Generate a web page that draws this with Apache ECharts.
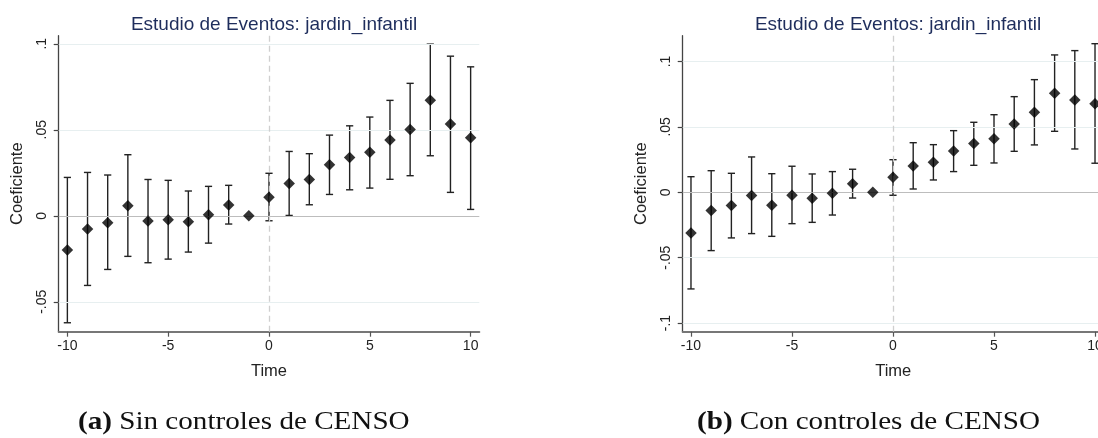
<!DOCTYPE html>
<html>
<head>
<meta charset="utf-8">
<script src="https://cdn.jsdelivr.net/npm/echarts@6/dist/echarts.min.js"></script>
<style>
  html, body { margin: 0; padding: 0; background: #ffffff; }
  #chart { width: 1098px; height: 438px; }
</style>
</head>
<body>
<div id="chart"></div>
<script>
// Event time (years relative to treatment)
const times = [-10, -9, -8, -7, -6, -5, -4, -3, -2, -1, 0, 1, 2, 3, 4, 5, 6, 7, 8, 9, 10];

// Panel (a): without census controls
const coefA = [-0.0199, -0.0077, -0.0041, 0.0058, -0.0031, -0.0023, -0.0035, 0.0006, 0.0062, 0, 0.0108, 0.0188, 0.0211, 0.0297, 0.0339, 0.0369, 0.0440, 0.0502, 0.0671, 0.0533, 0.0453];
const lowA  = [-0.0622, -0.0405, -0.0312, -0.0236, -0.0273, -0.0252, -0.0211, -0.0159, -0.0048, 0, -0.0029, 0.0002, 0.0064, 0.0124, 0.0151, 0.0161, 0.0212, 0.0233, 0.0349, 0.0136, 0.0037];
const highA = [0.0223, 0.0252, 0.0237, 0.0355, 0.0211, 0.0206, 0.0144, 0.0171, 0.0177, 0, 0.0247, 0.0374, 0.0361, 0.0469, 0.0523, 0.0574, 0.0671, 0.0770, 0.0998, 0.0928, 0.0866];

// Panel (b): with census controls
const coefB = [-0.0311, -0.0140, -0.0102, -0.0025, -0.0100, -0.0023, -0.0046, -0.0008, 0.0066, 0, 0.0115, 0.0201, 0.0229, 0.0316, 0.0372, 0.0410, 0.0522, 0.0611, 0.0757, 0.0706, 0.0677];
const lowB  = [-0.0739, -0.0446, -0.0349, -0.0316, -0.0337, -0.0240, -0.0230, -0.0174, -0.0044, 0, -0.0023, 0.0025, 0.0094, 0.0158, 0.0206, 0.0224, 0.0313, 0.0362, 0.0466, 0.0331, 0.0222];
const highB = [0.0119, 0.0165, 0.0145, 0.0270, 0.0142, 0.0199, 0.0140, 0.0158, 0.0176, 0, 0.0249, 0.0379, 0.0364, 0.0471, 0.0535, 0.0593, 0.0731, 0.0861, 0.1050, 0.1083, 0.1136];

// Axis ticks and their labels
const xTicks = [-10, -5, 0, 5, 10];
const xTickLabels = ['-10', '-5', '0', '5', '10'];
const yTicksA = [-0.05, 0, 0.05, 0.1];
const yTickLabelsA = ['-.05', '0', '.05', '.1'];
const yTicksB = [-0.1, -0.05, 0, 0.05, 0.1];
const yTickLabelsB = ['-.1', '-.05', '0', '.05', '.1'];

const titleText = 'Estudio de Eventos: jardin_infantil';
const xName = 'Time';
const yName = 'Coeficiente';
const captionA = ['(a)', 'Sin controles de CENSO'];
const captionB = ['(b)', 'Con controles de CENSO'];

const SANS = '"Liberation Sans", Arial, sans-serif';
const SERIF = '"Liberation Serif", "DejaVu Serif", serif';

function labelFor(ticks, labels) {
  return function (v) {
    for (let i = 0; i < ticks.length; i++) {
      if (Math.abs(ticks[i] - v) < 1e-9) return labels[i];
    }
    return '';
  };
}

function xAxisFor(gridIndex, min, max) {
  return {
    type: 'value', gridIndex: gridIndex, min: min, max: max,
    name: xName, nameLocation: 'middle', nameGap: 31,
    nameTextStyle: { fontFamily: SANS, fontSize: 16.5, color: '#222' },
    axisLine: { show: true, onZero: false, lineStyle: { color: '#777', width: 2 } },
    axisTick: { show: true, length: 5, customValues: xTicks, lineStyle: { color: '#555', width: 1.2 } },
    axisLabel: { customValues: xTicks, formatter: labelFor(xTicks, xTickLabels), fontFamily: SANS, fontSize: 14, color: '#222', margin: 7, hideOverlap: false },
    splitLine: { show: false }
  };
}

function yAxisFor(gridIndex, min, max, ticks, labels) {
  return {
    type: 'value', gridIndex: gridIndex, min: min, max: max,
    name: yName, nameLocation: 'middle', nameGap: 33,
    nameTextStyle: { fontFamily: SANS, fontSize: 16.5, color: '#222' },
    axisLine: { show: true, onZero: false, lineStyle: { color: '#444', width: 1.3 } },
    axisTick: { show: true, length: 5, customValues: ticks, lineStyle: { color: '#444', width: 1.2 } },
    axisLabel: { customValues: ticks, formatter: labelFor(ticks, labels), rotate: 90, fontFamily: SANS, fontSize: 14, color: '#222', margin: 10 },
    splitLine: { show: false }
  };
}

function errorBars(idx, low, high) {
  const data = times.map((t, i) => [t, low[i], high[i]]);
  return {
    type: 'custom', xAxisIndex: idx, yAxisIndex: idx, z: 3, silent: true,
    data: data,
    renderItem: function (params, api) {
      const x = api.value(0), lo = api.value(1), hi = api.value(2);
      if (lo === hi) return null;
      const pLo = api.coord([x, lo]);
      const pHi = api.coord([x, hi]);
      const half = 3.6;
      const style = { stroke: '#222', lineWidth: 1.4 };
      return {
        type: 'group',
        children: [
          { type: 'line', shape: { x1: pLo[0], y1: pLo[1], x2: pHi[0], y2: pHi[1] }, style: style },
          { type: 'line', shape: { x1: pLo[0] - half, y1: pLo[1], x2: pLo[0] + half, y2: pLo[1] }, style: style },
          { type: 'line', shape: { x1: pHi[0] - half, y1: pHi[1], x2: pHi[0] + half, y2: pHi[1] }, style: style }
        ]
      };
    }
  };
}

function referenceLines(idx, ticks) {
  const h = ticks.map(v => ({
    yAxis: v,
    lineStyle: v === 0 ? { color: '#bdbdbd', width: 1.2, type: 'solid' } : { color: '#e7eff0', width: 1.2, type: 'solid' }
  }));
  h.push({ xAxis: 0, lineStyle: { color: '#cfcfcf', width: 1.3, type: [6, 4] } });
  return {
    type: 'line', xAxisIndex: idx, yAxisIndex: idx, data: [], z: 1, silent: true,
    markLine: { silent: true, symbol: 'none', label: { show: false }, animation: false, data: h }
  };
}

function points(idx, coef) {
  return {
    type: 'scatter', xAxisIndex: idx, yAxisIndex: idx, z: 5,
    symbol: 'diamond', symbolSize: [11.5, 11.5],
    itemStyle: { color: '#000' },
    data: times.map((t, i) => [t, coef[i]])
  };
}

function caption(parts, left) {
  return {
    type: 'text', left: left, top: 409, scaleX: 1.12,
    style: {
      text: '{b|' + parts[0] + '} ' + parts[1],
      fontFamily: SERIF, fontSize: 26, fill: '#111',
      rich: { b: { fontFamily: SERIF, fontSize: 26, fontWeight: 'bold', fill: '#111' } }
    }
  };
}

const chart = echarts.init(document.getElementById('chart'), null, { renderer: 'canvas' });
chart.setOption({
  animation: false,
  backgroundColor: '#ffffff',
  title: [
    { text: titleText, left: 269, top: 10, textAlign: 'center', textStyle: { fontFamily: SANS, fontSize: 19, fontWeight: 'normal', color: '#1e2d5c' } },
    { text: titleText, left: 893, top: 10, textAlign: 'center', textStyle: { fontFamily: SANS, fontSize: 19, fontWeight: 'normal', color: '#1e2d5c' } }
  ],
  grid: [
    { left: 58.7, top: 35.7, width: 420.6, height: 296, outerBoundsMode: 'none' },
    { left: 682.7, top: 35.7, width: 421, height: 296, outerBoundsMode: 'none' }
  ],
  xAxis: [xAxisFor(0, -10.43, 10.43), xAxisFor(1, -10.41, 10.43)],
  yAxis: [
    yAxisFor(0, -0.0674, 0.1047, yTicksA, yTickLabelsA),
    yAxisFor(1, -0.1066, 0.1197, yTicksB, yTickLabelsB)
  ],
  series: [
    referenceLines(0, yTicksA), errorBars(0, lowA, highA), points(0, coefA),
    referenceLines(1, yTicksB), errorBars(1, lowB, highB), points(1, coefB)
  ],
  graphic: [caption(captionA, 78), caption(captionB, 697)]
});
</script>
</body>
</html>
